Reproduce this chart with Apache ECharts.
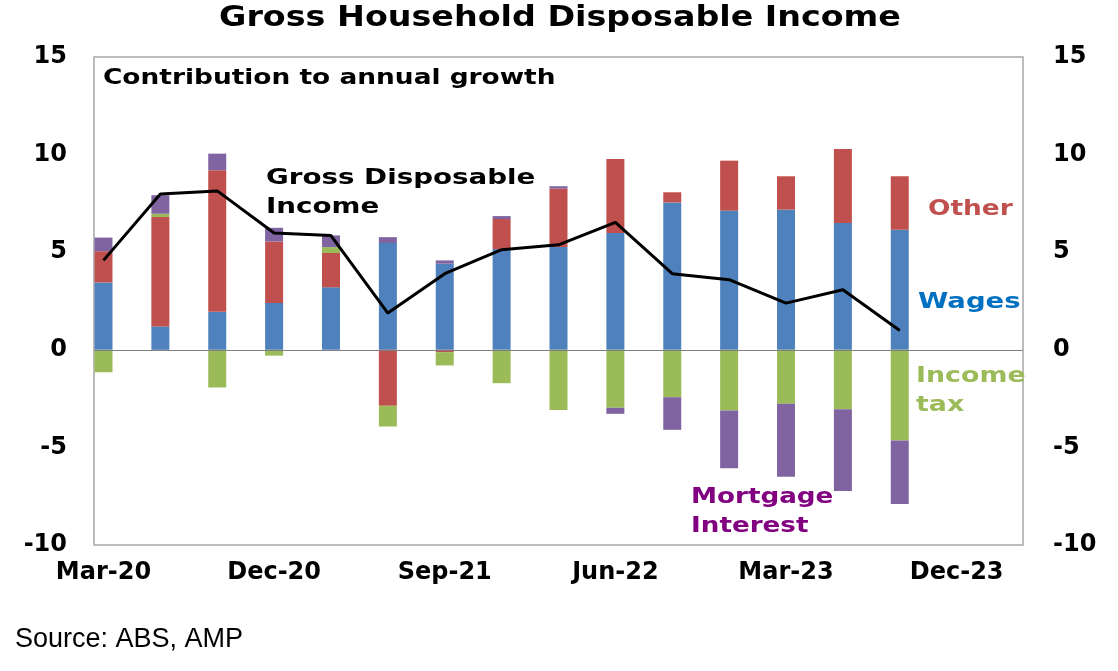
<!DOCTYPE html>
<html>
<head>
<meta charset="utf-8">
<title>Gross Household Disposable Income</title>
<script src="https://cdn.jsdelivr.net/npm/echarts@6/dist/echarts.min.js"></script>
<style>
  html, body { margin: 0; padding: 0; background: #fff; }
  #chart { width: 1118px; height: 671px; }
</style>
</head>
<body>
<div id="chart"></div>
<script>
// quarterly contributions to annual growth (ppts)
const quarters = ["Mar-20", "Jun-20", "Sep-20", "Dec-20", "Mar-21", "Jun-21", "Sep-21", "Dec-21",
                  "Mar-22", "Jun-22", "Sep-22", "Dec-22", "Mar-23", "Jun-23", "Sep-23"];
const wages     = [3.45, 1.2, 1.95, 2.4, 3.2, 5.47, 4.41, 5.16, 5.26, 5.98, 7.55, 7.13, 7.18, 6.5, 6.15];
const other     = [1.6, 5.6, 7.25, 3.15, 1.76, -2.87, -0.12, 1.54, 3.0, 3.8, 0.52, 2.56, 1.71, 3.79, 2.74];
const incomeTax = [-1.15, 0.17, -1.93, -0.3, 0.3, -1.06, -0.68, -1.71, -3.08, -2.97, -2.43, -3.11, -2.77, -3.04, -4.65];
const mortgage  = [0.7, 0.95, 0.85, 0.7, 0.6, 0.3, 0.17, 0.15, 0.12, -0.31, -1.67, -2.96, -3.73, -4.19, -3.25];
const gdi       = [4.58, 7.98, 8.14, 5.98, 5.85, 1.88, 3.9, 5.13, 5.38, 6.53, 3.9, 3.59, 2.39, 3.08, 0.99];

const xTickLabels = ["Mar-20", "Dec-20", "Sep-21", "Jun-22", "Mar-23", "Dec-23"];
const yTicks = [-10, -5, 0, 5, 10, 15];

// the axis runs monthly, Mar-20 to Mar-24, quarters sit on every 3rd month
const monthNames = ["Jan", "Feb", "Mar", "Apr", "May", "Jun", "Jul", "Aug", "Sep", "Oct", "Nov", "Dec"];
const months = [];
for (let i = 0; i < 49; i++) {
  const m = (2 + i) % 12;
  const y = 20 + Math.floor((2 + i) / 12);
  months.push(monthNames[m] + "-" + y);
}

function toMonthly(values) {
  const out = months.map(() => null);
  quarters.forEach((q, i) => { out[months.indexOf(q)] = values[i]; });
  return out;
}

const BOLD = "DejaVu Sans";

function barSeries(name, values, color) {
  return {
    name: name,
    type: "bar",
    stack: "total",
    barWidth: 18,
    data: toMonthly(values),
    itemStyle: { color: color },
    emphasis: { disabled: true }
  };
}

function note(text, x, y, color, align, size, sx) {
  return {
    type: "text",
    x: x,
    y: y,
    scaleX: sx || 1.23,
    z: 100,
    style: {
      text: text,
      font: "bold " + (size || 22) + "px '" + BOLD + "'",
      fill: color,
      textAlign: align || "left",
      textVerticalAlign: "middle",
      lineHeight: 29
    }
  };
}

const chart = echarts.init(document.getElementById("chart"));

const wagesSeries = barSeries("Wages", wages, "#4F81BD");
wagesSeries.markLine = {
  silent: true,
  symbol: "none",
  label: { show: false },
  lineStyle: { color: "#7F7F7F", width: 1.2, type: "solid" },
  data: [{ yAxis: 0 }]
};

chart.setOption({
  animation: false,
  backgroundColor: "#fff",
  grid: {
    left: 94, right: 95, top: 57, bottom: 126,
    containLabel: false,
    outerBoundsMode: "none",
    show: true,
    borderColor: "#A6A6A6",
    borderWidth: 1.5
  },
  xAxis: {
    type: "category",
    data: months,
    boundaryGap: true,
    axisLine: { show: false },
    axisTick: { show: false },
    splitLine: { show: false },
    axisLabel: {
      interval: 0,
      margin: 16,
      color: "#000",
      fontFamily: BOLD,
      fontWeight: "bold",
      fontSize: 24,
      formatter: v => (xTickLabels.includes(v) ? v : "")
    }
  },
  yAxis: [0, 1].map(i => ({
    type: "value",
    min: yTicks[0],
    max: yTicks[yTicks.length - 1],
    interval: 5,
    position: i === 0 ? "left" : "right",
    axisLine: { show: false },
    axisTick: { show: false },
    splitLine: { show: false },
    axisLabel: {
      margin: i === 0 ? 27 : 30,
      color: "#000",
      fontFamily: BOLD,
      fontWeight: "bold",
      fontSize: 24
    }
  })),
  series: [
    wagesSeries,
    barSeries("Other", other, "#C0504D"),
    barSeries("Income tax", incomeTax, "#9BBB59"),
    barSeries("Mortgage Interest", mortgage, "#8064A2"),
    {
      name: "Gross Disposable Income",
      type: "line",
      data: toMonthly(gdi),
      connectNulls: true,
      symbol: "none",
      z: 10,
      lineStyle: { color: "#000", width: 3 },
      emphasis: { disabled: true }
    }
  ],
  graphic: [
    note("Gross Household Disposable Income", 560, 19, "#000", "center", 28, 1.19),
    note("Contribution to annual growth", 103, 78, "#000", "left", 22, 1.2),
    note("Gross Disposable\nIncome", 266, 193, "#000", "left", 22, 1.26),
    note("Other", 928, 209, "#C0504D", "left", 22, 1.2),
    note("Wages", 918, 302, "#0070C0", "left", 22, 1.25),
    note("Income\ntax", 916, 391, "#9BBB59", "left", 22, 1.22),
    note("Mortgage\nInterest", 691, 512, "#800080", "left", 22, 1.19),
    {
      type: "text",
      x: 15,
      y: 640,
      style: {
        text: "Source: ABS, AMP",
        font: "27px 'Liberation Sans'",
        fill: "#000",
        textAlign: "left",
        textVerticalAlign: "middle"
      }
    }
  ]
});

window.addEventListener("resize", () => chart.resize());
</script>
</body>
</html>
